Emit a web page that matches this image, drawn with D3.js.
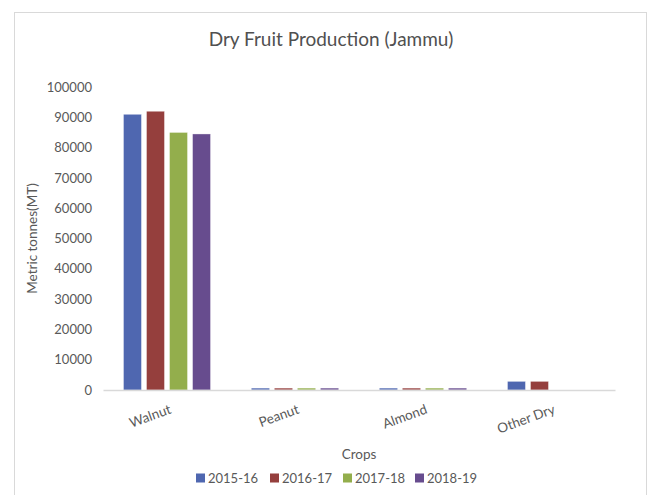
<!DOCTYPE html>
<html><head><meta charset="utf-8">
<script src="https://cdn.jsdelivr.net/npm/d3@7"></script>
<style>body{margin:0;background:#fff;}svg{display:block;font-family:Lato,"Open Sans",sans-serif;}</style>
</head><body>
<svg id="c" width="654" height="495"></svg>
<script>
const categories = ["Walnut", "Peanut", "Almond", "Other Dry"];
const seriesNames = ["2015-16", "2016-17", "2017-18", "2018-19"];
const s2015 = [91000, 350, 350, 2850];
const s2016 = [92000, 350, 350, 2850];
const s2017 = [85000, 350, 350, 0];
const s2018 = [84500, 350, 350, 0];
const yTicks = [0, 10000, 20000, 30000, 40000, 50000, 60000, 70000, 80000, 90000, 100000];
const colors = ["#4F67B0", "#953F3D", "#93AE4C", "#674C8E"];

const values = [s2015, s2016, s2017, s2018];
const svg = d3.select("#c");

svg.append("rect").attr("x", 14.5).attr("y", 12.5).attr("width", 632).attr("height", 500)
  .attr("fill", "#fff").attr("stroke", "#d9d9d9");

const pLeft = 103, pRight = 615, pTop = 87, pBottom = 390;
const x0 = d3.scaleBand().domain(categories).range([pLeft, pRight]).paddingInner(0.32).paddingOuter(0.16);
const x1 = d3.scaleBand().domain(seriesNames).range([0, x0.bandwidth()]).paddingInner(0.22).paddingOuter(0);
const y = d3.scaleLinear().domain([0, 100000]).range([pBottom, pTop]);

// title
svg.append("text").attr("x", 331).attr("y", 46).attr("text-anchor", "middle")
  .attr("font-size", 19).attr("fill", "#505050").text("Dry Fruit Production (Jammu)");

// y axis labels
const yAxis = d3.axisLeft(y).tickValues(yTicks).tickSize(0).tickPadding(0).tickFormat(d3.format("d"));
const ya = svg.append("g").attr("transform", `translate(${pLeft - 11},0)`).call(yAxis);
ya.select(".domain").remove();
ya.selectAll("text").attr("font-size", 13).attr("fill", "#595959").attr("font-family", "Lato,'Open Sans',sans-serif");

// bars
categories.forEach((c, ci) => {
  seriesNames.forEach((s, si) => {
    const v = values[si][ci];
    if (!v) return;
    const h = pBottom - y(v);
    svg.append("rect")
      .attr("x", x0(c) + x1(s)).attr("y", h < 2 ? pBottom - 2 : y(v))
      .attr("width", x1.bandwidth()).attr("height", Math.max(h, 2))
      .attr("fill", colors[si]).attr("fill-opacity", h < 2 ? 0.7 : 1)
      .attr("stroke", h < 2 ? "none" : "#fff").attr("stroke-width", 0.6).attr("stroke-opacity", 0.6);
  });
});

// x axis
const xAxis = d3.axisBottom(x0).tickSize(0).tickPadding(0);
const xa = svg.append("g").attr("transform", `translate(0,${pBottom})`).call(xAxis);
xa.select(".domain").attr("stroke", "#d9d9d9").attr("stroke-width", 1.5);
xa.selectAll(".tick text")
  .attr("font-size", 13.5).attr("fill", "#595959").attr("font-family", "Lato,'Open Sans',sans-serif")
  .attr("text-anchor", "end").attr("dy", 0).attr("y", 0)
  .attr("transform", `translate(5,23) rotate(-20)`);

// axis titles
svg.append("text").attr("transform", `translate(37,${(pTop + pBottom) / 2}) rotate(-90)`)
  .attr("text-anchor", "middle").attr("font-size", 13.5).attr("fill", "#595959").text("Metric tonnes(MT)");
svg.append("text").attr("x", (pLeft + pRight) / 2).attr("y", 459).attr("text-anchor", "middle")
  .attr("font-size", 13.5).attr("fill", "#595959").text("Crops");

// legend
const legX = [196, 270, 343, 415];
seriesNames.forEach((s, i) => {
  const g = svg.append("g").attr("transform", `translate(${legX[i]},478)`);
  g.append("rect").attr("x", 0).attr("y", -4.5).attr("width", 9).attr("height", 9).attr("fill", colors[i]);
  g.append("text").attr("x", 12).attr("y", 4.5).attr("font-size", 13).attr("fill", "#595959").text(s);
});
</script>
</body></html>
